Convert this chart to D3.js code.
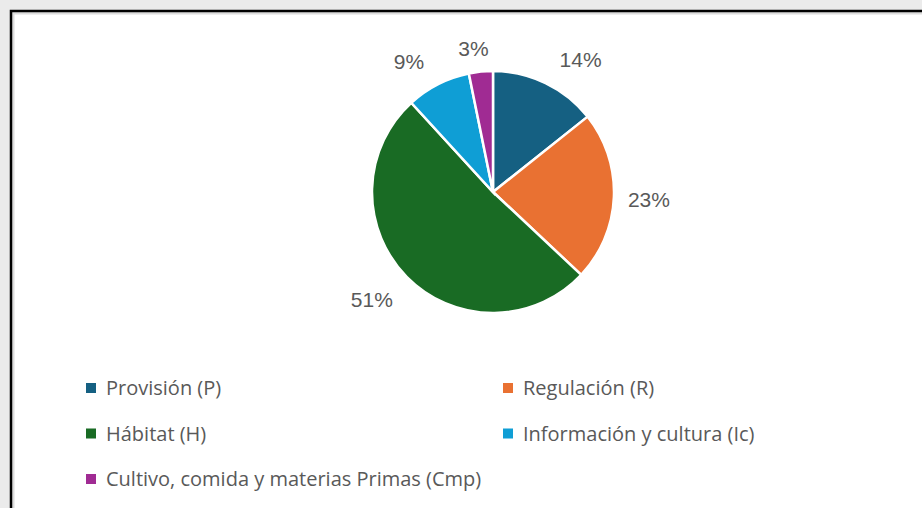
<!DOCTYPE html>
<html>
<head>
<meta charset="utf-8">
<script src="https://cdn.jsdelivr.net/npm/d3@7"></script>
<style>
  body { margin: 0; background: #ebebeb; }
  #chart { position: absolute; left: 0; top: 0; }
</style>
</head>
<body>
<div id="chart"></div>
<script>
// data
var categories = ["Provisión (P)", "Regulación (R)", "Hábitat (H)", "Información y cultura (Ic)", "Cultivo, comida y materias Primas (Cmp)"];
var values = [14.3, 22.7, 51.2, 8.6, 3.2];
var labels = ["14%", "23%", "51%", "9%", "3%"];
var colors = ["#156082", "#e97132", "#196b24", "#0f9ed5", "#a02b93"];

var svgWidth = 922, svgHeight = 508;
var svg = d3.select("#chart").append("svg")
    .attr("width", svgWidth)
    .attr("height", svgHeight);

// chart area with border
svg.append("rect")
    .attr("x", 13).attr("y", 13)
    .attr("width", 940).attr("height", 520)
    .attr("fill", "#ffffff")
    .attr("stroke", "#dcdcdc")
    .attr("stroke-width", 3);
svg.append("rect")
    .attr("x", 11).attr("y", 11)
    .attr("width", 940).attr("height", 520)
    .attr("fill", "none")
    .attr("stroke", "#000")
    .attr("stroke-width", 2.5);

var cx = 493, cy = 192, radius = 121;
var g = svg.append("g").attr("transform", "translate(" + cx + "," + cy + ")");

var pie = d3.pie().sort(null).value(function(d) { return d; });
var arcs = pie(values);
var arc = d3.arc().innerRadius(0).outerRadius(radius);

g.selectAll("path")
    .data(arcs)
    .enter()
    .append("path")
    .attr("d", arc)
    .attr("fill", function(d, i) { return colors[i]; })
    .attr("stroke", "#fff")
    .attr("stroke-width", 2.5);

// percent labels outside end, box pushed away from the rim
var clamp = function(t) { return Math.max(-1, Math.min(1, t * 2.5)); };
var lh = 20;
g.selectAll("text.pct")
    .data(arcs)
    .enter()
    .append("text")
    .attr("class", "pct")
    .attr("dy", "0.35em")
    .style("text-anchor", "middle")
    .style("font-family", "'Liberation Sans', Arial, sans-serif")
    .style("font-size", "21px")
    .style("fill", "#595959")
    .text(function(d, i) { return labels[i]; })
    .attr("transform", function(d) {
        var w = this.getComputedTextLength();
        var a = (d.startAngle + d.endAngle) / 2;
        var s = Math.sin(a), c = Math.cos(a);
        var x = radius * s + clamp(s) * (14 + w / 2);
        var y = -radius * c - clamp(c) * (13 + lh / 2);
        return "translate(" + x + "," + y + ")";
    });

// legend, two columns
var legend = svg.append("g");
var items = legend.selectAll("g")
    .data(categories)
    .enter()
    .append("g")
    .attr("transform", function(d, i) {
        var x = (i % 2 === 0) ? 86 : 503;
        var y = 388 + Math.floor(i / 2) * 45.5;
        return "translate(" + x + "," + y + ")";
    });
items.append("rect")
    .attr("x", 0).attr("y", -5)
    .attr("width", 10).attr("height", 10)
    .attr("fill", function(d, i) { return colors[i]; });
items.append("text")
    .attr("x", 20)
    .attr("dy", "0.35em")
    .style("font-family", "'Open Sans', sans-serif")
    .style("font-size", "20px")
    .style("fill", "#595959")
    .text(function(d) { return d; });
</script>
</body>
</html>
